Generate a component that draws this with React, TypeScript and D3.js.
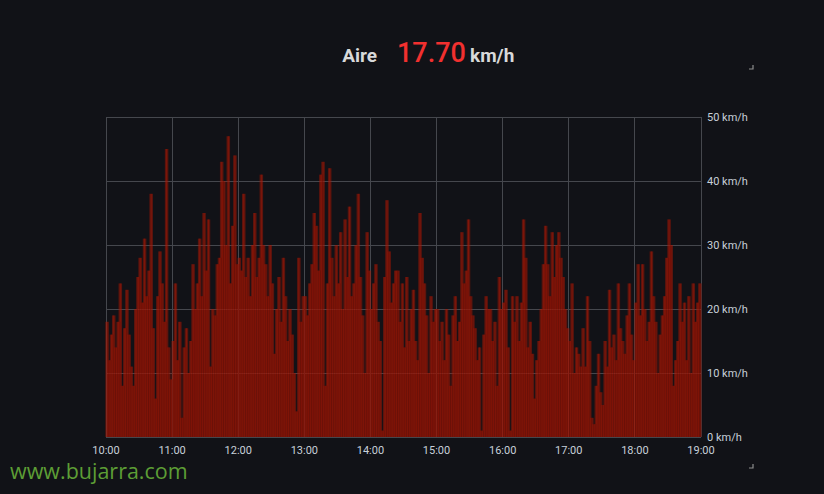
import React from 'react';
import * as d3 from 'd3';

// wind speed, one sample every 2 minutes from 10:00 to 18:58 (km/h)
const windValues: number[] = [
  // 10:00
  18, 12, 16, 19, 14, 18, 24, 8, 17, 23, 16, 11, 8, 20, 25, 28, 21, 31, 22, 26,
  38, 17, 6, 22, 29, 24, 18, 45, 14, 9,
  // 11:00
  15, 24, 12, 18, 3, 14, 17, 10, 15, 27, 20, 24, 31, 22, 35, 26, 34, 11, 20, 19,
  27, 28, 43, 40, 30, 47, 24, 33, 44, 27,
  // 12:00
  28, 26, 38, 25, 28, 22, 30, 35, 25, 28, 41, 30, 27, 22, 30, 24, 13, 20, 25, 18,
  28, 22, 15, 20, 16, 10, 4, 28, 18, 22,
  // 13:00
  22, 19, 24, 27, 35, 33, 26, 41, 43, 8, 24, 42, 28, 22, 30, 24, 32, 20, 34, 25,
  36, 22, 24, 30, 38, 25, 19, 10, 32, 26,
  // 14:00
  20, 24, 27, 18, 15, 1, 25, 37, 29, 21, 24, 26, 26, 18, 24, 14, 25, 15, 20, 23,
  15, 12, 35, 28, 24, 19, 10, 22, 18, 20,
  // 15:00
  20, 15, 18, 12, 20, 16, 8, 19, 22, 15, 18, 32, 24, 26, 34, 22, 19, 17, 12, 14,
  1, 16, 22, 20, 20, 15, 18, 8, 25, 20,
  // 16:00
  21, 23, 14, 1, 22, 18, 22, 15, 21, 34, 28, 14, 18, 13, 6, 12, 15, 20, 27, 33,
  27, 22, 32, 25, 30, 32, 28, 25, 20, 17,
  // 17:00
  15, 24, 10, 14, 13, 11, 17, 11, 22, 15, 3, 2, 8, 13, 7, 5, 15, 11, 23, 14,
  16, 12, 24, 17, 15, 13, 19, 24, 16, 12,
  // 18:00
  21, 27, 19, 27, 20, 15, 18, 29, 22, 18, 10, 16, 19, 22, 28, 34, 30, 8, 12, 15,
  24, 18, 21, 12, 22, 10, 24, 18, 21, 24,
];

const hourTicks: string[] = ['10:00', '11:00', '12:00', '13:00', '14:00', '15:00', '16:00', '17:00', '18:00', '19:00'];
const speedTicks: number[] = [0, 10, 20, 30, 40, 50];

const panelTitle = 'Aire';
const currentValue = '17.70';
const unit = 'km/h';

const W = 824;
const H = 494;
const margin = { top: 117, right: 123, bottom: 57, left: 106 };

const App: React.FC = () => {
  const start = new Date(2020, 0, 1, 10, 0);
  const end = new Date(2020, 0, 1, 19, 0);
  const x = d3.scaleTime().domain([start, end]).range([margin.left, W - margin.right]);
  const y = d3.scaleLinear().domain([0, 50]).range([H - margin.bottom, margin.top]);

  const data = windValues.map((v, i) => ({ t: d3.timeMinute.offset(start, i * 2), v }));
  const step = x(data[1].t) - x(data[0].t);
  const hourDates = hourTicks.map((_, i) => d3.timeHour.offset(start, i));

  const font = 'Roboto, "Noto Sans", sans-serif';

  return (
    <svg width={W} height={H} style={{ position: 'absolute', left: 0, top: 0, background: '#111217' }}>
      <rect width={W} height={H} fill="#111217" />

      {/* title */}
      <text x={377} y={62} textAnchor="end" fill="#d8d9da" fontFamily={font} fontWeight={700} fontSize={19}>
        {panelTitle}
      </text>
      <text x={397} y={62} fill="#f2302f" fontFamily={font} fontWeight={500} fontSize={27}>
        {currentValue}
      </text>
      <text x={470} y={62} fill="#d8d9da" fontFamily={font} fontWeight={700} fontSize={19}>
        {unit}
      </text>

      {/* grid */}
      <g stroke="#45474d" strokeWidth={1} shapeRendering="crispEdges">
        {hourDates.map((d, i) => (
          <line key={'v' + i} x1={x(d)} x2={x(d)} y1={y(50)} y2={y(0)} />
        ))}
        {speedTicks.map((s) => (
          <line key={'h' + s} x1={x(start)} x2={x(end)} y1={y(s)} y2={y(s)} />
        ))}
      </g>

      {/* bars: overlapping translucent columns, brighter where they stack */}
      <g fill="#a81604" fillOpacity={0.5}>
        {data.map((d, i) => (
          <rect
            key={i}
            x={x(d.t) - step * 0.3}
            width={step * 1.6}
            y={y(d.v)}
            height={y(0) - y(d.v)}
          />
        ))}
      </g>
      {/* thin bright edge on each column */}
      <g stroke="#b01a06" strokeOpacity={0.55} strokeWidth={0.8}>
        {data.map((d, i) => (
          <line key={i} x1={x(d.t) + step * 0.5} x2={x(d.t) + step * 0.5} y1={y(d.v)} y2={y(0)} />
        ))}
      </g>
      {/* dark striations between columns */}
      <g stroke="#14060a" strokeOpacity={0.35} strokeWidth={0.5}>
        {data.map((d, i) => {
          const next = data[i + 1] ? data[i + 1].v : d.v;
          const top = Math.min(d.v, next);
          return (
            <line key={i} x1={x(d.t) + step * 1.3} x2={x(d.t) + step * 1.3} y1={y(top)} y2={y(0)} />
          );
        })}
      </g>

      {/* y axis labels */}
      {speedTicks.map((s) => (
        <text
          key={'yl' + s}
          x={x(end) + 6}
          y={y(s)}
          dy="0.35em"
          fill="#c7d0d9"
          fontFamily={font}
          fontSize={11}
        >
          {`${s} km/h`}
        </text>
      ))}

      {/* x axis labels */}
      {hourDates.map((d, i) => (
        <text
          key={'xl' + i}
          x={x(d)}
          y={454}
          textAnchor="middle"
          fill="#c7d0d9"
          fontFamily={font}
          fontSize={11}
        >
          {hourTicks[i]}
        </text>
      ))}

      {/* resize corners */}
      <path d="M749,69 L753,69 L753,65" fill="none" stroke="#8e8e8e" strokeWidth={1.2} />
      <path d="M749,468 L753,468 L753,464" fill="none" stroke="#8e8e8e" strokeWidth={1.2} />

      {/* watermark */}
      <text x={10} y={479} fill="#5d9e35" fontFamily='"Open Sans", "Noto Sans", sans-serif' fontSize={21.5}>
        www.bujarra.com
      </text>
    </svg>
  );
};

export default App;
